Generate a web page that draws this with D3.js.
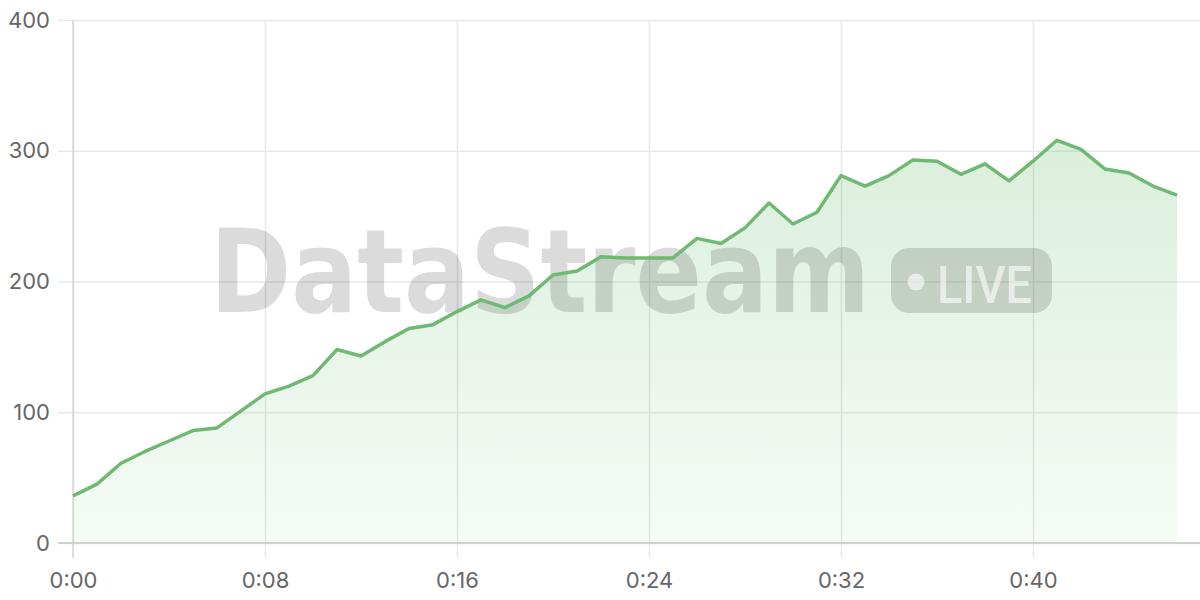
<!DOCTYPE html>
<html><head><meta charset="utf-8">
<script src="https://cdn.jsdelivr.net/npm/d3@7"></script>
<style>html,body{margin:0;padding:0;background:#fff;}svg{display:block;}</style>
</head><body>
<svg id="c" width="1200" height="600"></svg>
<script>
const minutes = d3.range(0, 47);
const values = [36,45,61,70,78,86,88,101,114,120,128,148,143,154,164,167,177,186,180,189,205,208,219,218,218,218,233,229,241,260,244,253,281,273,281,293,292,282,290,277,292,308,301,286,283,273,266];
const yTicks = [0,100,200,300,400];
const xTicks = [0,8,16,24,32,40];
const watermarkText = "DataStream";
const badgeText = "LIVE";

const svg = d3.select("#c");
const pLeft = 73, pRight = 1201, pTop = 20, pBottom = 543;
const x = d3.scaleLinear().domain([0,47]).range([pLeft,pRight]);
const y = d3.scaleLinear().domain([0,400]).range([pBottom,pTop]);
const fmt = m => Math.floor(m/60) + ":" + String(m%60).padStart(2,"0");

const defs = svg.append("defs");
const g = defs.append("linearGradient").attr("id","fill").attr("x1",0).attr("x2",0)
  .attr("gradientUnits","userSpaceOnUse").attr("y1",y(310)).attr("y2",pBottom);
g.append("stop").attr("offset","0%").attr("stop-color","#66bb6a").attr("stop-opacity",0.24);
g.append("stop").attr("offset","100%").attr("stop-color","#66bb6a").attr("stop-opacity",0.06);

// grid
svg.append("g").attr("transform",`translate(${pLeft},0)`)
  .call(d3.axisLeft(y).tickValues(yTicks).tickSize(15).tickPadding(8).tickFormat(d3.format("d")))
  .call(a=>a.select(".domain").remove())
  .call(a=>a.selectAll(".tick line").clone().attr("x1",0).attr("x2",pRight-pLeft))
  .call(a=>a.selectAll(".tick line").attr("stroke","#e8e8e8").attr("stroke-width",1.5))
  .call(a=>a.selectAll("text").attr("fill","#666").attr("font-size",22).attr("font-family","Inter, 'Noto Sans', sans-serif"));

svg.append("g").attr("transform",`translate(0,${pBottom})`)
  .call(d3.axisBottom(x).tickValues(xTicks).tickSize(15).tickPadding(14).tickFormat(fmt))
  .call(a=>a.select(".domain").remove())
  .call(a=>a.selectAll(".tick line").clone().attr("y1",0).attr("y2",pTop-pBottom))
  .call(a=>a.selectAll(".tick line").attr("stroke","#e8e8e8").attr("stroke-width",1.5))
  .call(a=>a.selectAll("text").attr("fill","#666").attr("font-size",22).attr("font-family","Inter, 'Noto Sans', sans-serif"));

// area
const pts = minutes.map((m,i)=>({m, v: values[i]}));
svg.append("path").datum(pts)
  .attr("d", d3.area().x(d=>x(d.m)).y0(pBottom).y1(d=>y(d.v)))
  .attr("fill","url(#fill)");

// axis lines
svg.append("line").attr("x1",pLeft).attr("x2",pLeft).attr("y1",pTop).attr("y2",pBottom+15).attr("stroke","#d6d6d6").attr("stroke-width",1.5);
svg.append("line").attr("x1",pLeft-15).attr("x2",pRight).attr("y1",pBottom).attr("y2",pBottom).attr("stroke","#d0d0d0").attr("stroke-width",2);

// watermark
function fitText(sel, x0, yb, w) {
  const nat = sel.node().getComputedTextLength();
  sel.attr("transform", `translate(${x0},${yb}) scale(${w/nat},1)`);
}
const wm = svg.append("g").attr("opacity",0.145).attr("pointer-events","none");
const t1 = wm.append("text").attr("x",0).attr("y",0).text(watermarkText)
  .attr("font-family","'DejaVu Sans', sans-serif").attr("font-weight",700)
  .attr("font-size",115).attr("fill","#000");
fitText(t1, 210, 312, 660);
wm.append("rect").attr("x",891).attr("y",248).attr("width",161).attr("height",65).attr("rx",18).attr("fill","#000");
const wm2 = svg.append("g").attr("opacity",0.6);
wm2.append("circle").attr("cx",916).attr("cy",282).attr("r",8.5).attr("fill","#fff");
const t2 = wm2.append("text").attr("x",0).attr("y",0).text(badgeText)
  .attr("font-family","Roboto, 'Liberation Sans', sans-serif").attr("font-weight",500)
  .attr("font-size",52).attr("fill","#fff");
fitText(t2, 937, 303, 95);

// line
svg.append("path").datum(pts)
  .attr("d", d3.line().x(d=>x(d.m)).y(d=>y(d.v)))
  .attr("fill","none").attr("stroke","#6fb972").attr("stroke-width",3.5).attr("stroke-linejoin","round");
</script>
</body></html>
